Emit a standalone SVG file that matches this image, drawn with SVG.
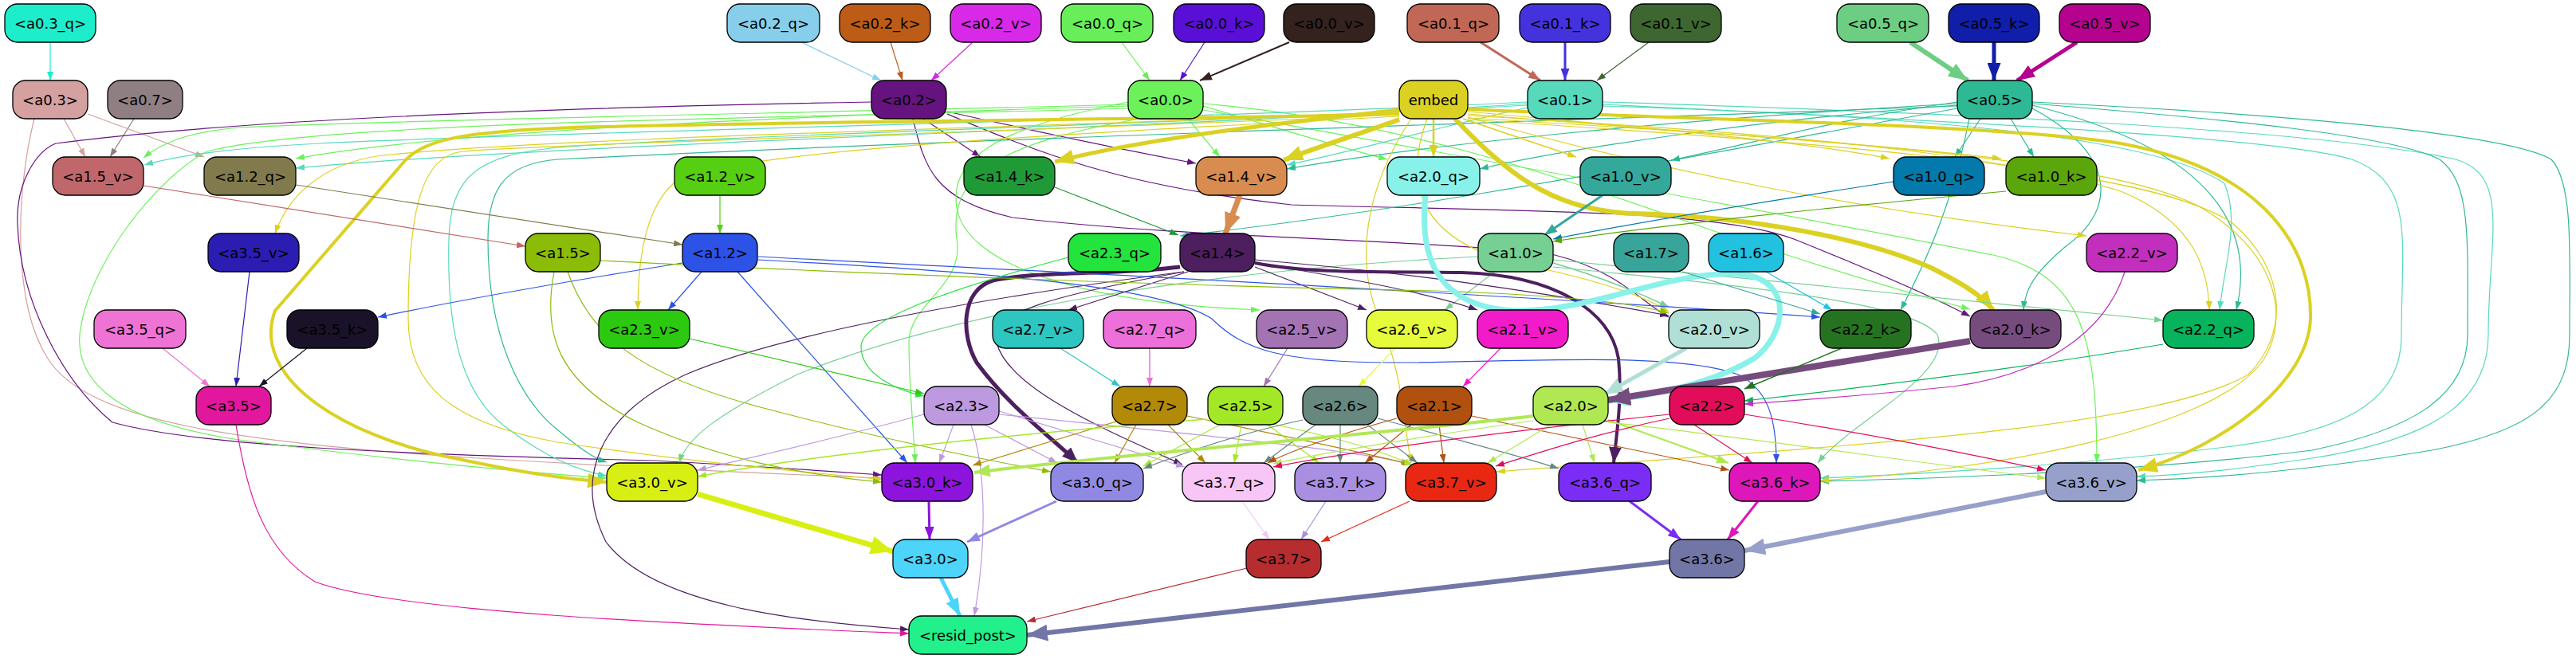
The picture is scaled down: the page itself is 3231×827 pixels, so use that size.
<svg xmlns="http://www.w3.org/2000/svg" width="3231" height="827" viewBox="0 0 3231 827">
<style>
.n rect{stroke:#000;stroke-width:1.3}
.n text{font-family:"DejaVu Sans","Liberation Sans",sans-serif;font-size:18px;text-anchor:middle;dominant-baseline:central;fill:#000}
</style>
<defs>
<marker id="a03q" viewBox="0 0 10 10" refX="10" refY="5" markerWidth="11" markerHeight="8" markerUnits="userSpaceOnUse" orient="auto" preserveAspectRatio="none"><path d="M0,0L10,5L0,10z" fill="#1dedcb"/></marker>
<marker id="a02q" viewBox="0 0 10 10" refX="10" refY="5" markerWidth="11" markerHeight="8" markerUnits="userSpaceOnUse" orient="auto" preserveAspectRatio="none"><path d="M0,0L10,5L0,10z" fill="#87ceeb"/></marker>
<marker id="a02k" viewBox="0 0 10 10" refX="10" refY="5" markerWidth="11" markerHeight="8" markerUnits="userSpaceOnUse" orient="auto" preserveAspectRatio="none"><path d="M0,0L10,5L0,10z" fill="#bc5c17"/></marker>
<marker id="a02v" viewBox="0 0 10 10" refX="10" refY="5" markerWidth="11" markerHeight="8" markerUnits="userSpaceOnUse" orient="auto" preserveAspectRatio="none"><path d="M0,0L10,5L0,10z" fill="#d828e8"/></marker>
<marker id="a00q" viewBox="0 0 10 10" refX="10" refY="5" markerWidth="11" markerHeight="8" markerUnits="userSpaceOnUse" orient="auto" preserveAspectRatio="none"><path d="M0,0L10,5L0,10z" fill="#68ee58"/></marker>
<marker id="a00k" viewBox="0 0 10 10" refX="10" refY="5" markerWidth="11" markerHeight="8" markerUnits="userSpaceOnUse" orient="auto" preserveAspectRatio="none"><path d="M0,0L10,5L0,10z" fill="#5a0fd6"/></marker>
<marker id="a00vM" viewBox="0 0 10 10" refX="10" refY="5" markerWidth="15" markerHeight="11" markerUnits="userSpaceOnUse" orient="auto" preserveAspectRatio="none"><path d="M0,0L10,5L0,10z" fill="#34221f"/></marker>
<marker id="a01qM" viewBox="0 0 10 10" refX="10" refY="5" markerWidth="15" markerHeight="11" markerUnits="userSpaceOnUse" orient="auto" preserveAspectRatio="none"><path d="M0,0L10,5L0,10z" fill="#c06756"/></marker>
<marker id="a01kM" viewBox="0 0 10 10" refX="10" refY="5" markerWidth="15" markerHeight="11" markerUnits="userSpaceOnUse" orient="auto" preserveAspectRatio="none"><path d="M0,0L10,5L0,10z" fill="#4433dd"/></marker>
<marker id="a01v" viewBox="0 0 10 10" refX="10" refY="5" markerWidth="11" markerHeight="8" markerUnits="userSpaceOnUse" orient="auto" preserveAspectRatio="none"><path d="M0,0L10,5L0,10z" fill="#3e6630"/></marker>
<marker id="a05qL" viewBox="0 0 10 10" refX="10" refY="5" markerWidth="24" markerHeight="19" markerUnits="userSpaceOnUse" orient="auto" preserveAspectRatio="none"><path d="M0,0L10,5L0,10z" fill="#6dce83"/></marker>
<marker id="a05kL" viewBox="0 0 10 10" refX="10" refY="5" markerWidth="22" markerHeight="17" markerUnits="userSpaceOnUse" orient="auto" preserveAspectRatio="none"><path d="M0,0L10,5L0,10z" fill="#101ea9"/></marker>
<marker id="a05vL" viewBox="0 0 10 10" refX="10" refY="5" markerWidth="22" markerHeight="17" markerUnits="userSpaceOnUse" orient="auto" preserveAspectRatio="none"><path d="M0,0L10,5L0,10z" fill="#b5038f"/></marker>
<marker id="a03" viewBox="0 0 10 10" refX="10" refY="5" markerWidth="11" markerHeight="8" markerUnits="userSpaceOnUse" orient="auto" preserveAspectRatio="none"><path d="M0,0L10,5L0,10z" fill="#d4a0a0"/></marker>
<marker id="a07" viewBox="0 0 10 10" refX="10" refY="5" markerWidth="11" markerHeight="8" markerUnits="userSpaceOnUse" orient="auto" preserveAspectRatio="none"><path d="M0,0L10,5L0,10z" fill="#8f7f82"/></marker>
<marker id="a02" viewBox="0 0 10 10" refX="10" refY="5" markerWidth="11" markerHeight="8" markerUnits="userSpaceOnUse" orient="auto" preserveAspectRatio="none"><path d="M0,0L10,5L0,10z" fill="#65137e"/></marker>
<marker id="a00" viewBox="0 0 10 10" refX="10" refY="5" markerWidth="11" markerHeight="8" markerUnits="userSpaceOnUse" orient="auto" preserveAspectRatio="none"><path d="M0,0L10,5L0,10z" fill="#6cf15a"/></marker>
<marker id="emb" viewBox="0 0 10 10" refX="10" refY="5" markerWidth="11" markerHeight="8" markerUnits="userSpaceOnUse" orient="auto" preserveAspectRatio="none"><path d="M0,0L10,5L0,10z" fill="#dbd122"/></marker>
<marker id="embM" viewBox="0 0 10 10" refX="10" refY="5" markerWidth="15" markerHeight="11" markerUnits="userSpaceOnUse" orient="auto" preserveAspectRatio="none"><path d="M0,0L10,5L0,10z" fill="#dbd122"/></marker>
<marker id="embL" viewBox="0 0 10 10" refX="10" refY="5" markerWidth="24" markerHeight="19" markerUnits="userSpaceOnUse" orient="auto" preserveAspectRatio="none"><path d="M0,0L10,5L0,10z" fill="#dbd122"/></marker>
<marker id="a01" viewBox="0 0 10 10" refX="10" refY="5" markerWidth="11" markerHeight="8" markerUnits="userSpaceOnUse" orient="auto" preserveAspectRatio="none"><path d="M0,0L10,5L0,10z" fill="#57d9bc"/></marker>
<marker id="a05" viewBox="0 0 10 10" refX="10" refY="5" markerWidth="11" markerHeight="8" markerUnits="userSpaceOnUse" orient="auto" preserveAspectRatio="none"><path d="M0,0L10,5L0,10z" fill="#2eb994"/></marker>
<marker id="a15v" viewBox="0 0 10 10" refX="10" refY="5" markerWidth="11" markerHeight="8" markerUnits="userSpaceOnUse" orient="auto" preserveAspectRatio="none"><path d="M0,0L10,5L0,10z" fill="#c0676b"/></marker>
<marker id="a12q" viewBox="0 0 10 10" refX="10" refY="5" markerWidth="11" markerHeight="8" markerUnits="userSpaceOnUse" orient="auto" preserveAspectRatio="none"><path d="M0,0L10,5L0,10z" fill="#807a4c"/></marker>
<marker id="a12v" viewBox="0 0 10 10" refX="10" refY="5" markerWidth="11" markerHeight="8" markerUnits="userSpaceOnUse" orient="auto" preserveAspectRatio="none"><path d="M0,0L10,5L0,10z" fill="#56cf12"/></marker>
<marker id="a14k" viewBox="0 0 10 10" refX="10" refY="5" markerWidth="11" markerHeight="8" markerUnits="userSpaceOnUse" orient="auto" preserveAspectRatio="none"><path d="M0,0L10,5L0,10z" fill="#1f9a37"/></marker>
<marker id="a14vL" viewBox="0 0 10 10" refX="10" refY="5" markerWidth="26" markerHeight="21" markerUnits="userSpaceOnUse" orient="auto" preserveAspectRatio="none"><path d="M0,0L10,5L0,10z" fill="#d98c50"/></marker>
<marker id="a20qL" viewBox="0 0 10 10" refX="10" refY="5" markerWidth="26" markerHeight="21" markerUnits="userSpaceOnUse" orient="auto" preserveAspectRatio="none"><path d="M0,0L10,5L0,10z" fill="#88f2ea"/></marker>
<marker id="a10vM" viewBox="0 0 10 10" refX="10" refY="5" markerWidth="16" markerHeight="12" markerUnits="userSpaceOnUse" orient="auto" preserveAspectRatio="none"><path d="M0,0L10,5L0,10z" fill="#34a89a"/></marker>
<marker id="a10q" viewBox="0 0 10 10" refX="10" refY="5" markerWidth="11" markerHeight="8" markerUnits="userSpaceOnUse" orient="auto" preserveAspectRatio="none"><path d="M0,0L10,5L0,10z" fill="#0479ab"/></marker>
<marker id="a10k" viewBox="0 0 10 10" refX="10" refY="5" markerWidth="11" markerHeight="8" markerUnits="userSpaceOnUse" orient="auto" preserveAspectRatio="none"><path d="M0,0L10,5L0,10z" fill="#5aa60b"/></marker>
<marker id="a35v" viewBox="0 0 10 10" refX="10" refY="5" markerWidth="11" markerHeight="8" markerUnits="userSpaceOnUse" orient="auto" preserveAspectRatio="none"><path d="M0,0L10,5L0,10z" fill="#2b1db1"/></marker>
<marker id="a15" viewBox="0 0 10 10" refX="10" refY="5" markerWidth="11" markerHeight="8" markerUnits="userSpaceOnUse" orient="auto" preserveAspectRatio="none"><path d="M0,0L10,5L0,10z" fill="#8bbd08"/></marker>
<marker id="a12" viewBox="0 0 10 10" refX="10" refY="5" markerWidth="11" markerHeight="8" markerUnits="userSpaceOnUse" orient="auto" preserveAspectRatio="none"><path d="M0,0L10,5L0,10z" fill="#2d52e6"/></marker>
<marker id="a23q" viewBox="0 0 10 10" refX="10" refY="5" markerWidth="11" markerHeight="8" markerUnits="userSpaceOnUse" orient="auto" preserveAspectRatio="none"><path d="M0,0L10,5L0,10z" fill="#23e33d"/></marker>
<marker id="a14" viewBox="0 0 10 10" refX="10" refY="5" markerWidth="11" markerHeight="8" markerUnits="userSpaceOnUse" orient="auto" preserveAspectRatio="none"><path d="M0,0L10,5L0,10z" fill="#4d1f5f"/></marker>
<marker id="a14L" viewBox="0 0 10 10" refX="10" refY="5" markerWidth="20" markerHeight="16" markerUnits="userSpaceOnUse" orient="auto" preserveAspectRatio="none"><path d="M0,0L10,5L0,10z" fill="#4d1f5f"/></marker>
<marker id="a10" viewBox="0 0 10 10" refX="10" refY="5" markerWidth="11" markerHeight="8" markerUnits="userSpaceOnUse" orient="auto" preserveAspectRatio="none"><path d="M0,0L10,5L0,10z" fill="#76cf93"/></marker>
<marker id="a17" viewBox="0 0 10 10" refX="10" refY="5" markerWidth="11" markerHeight="8" markerUnits="userSpaceOnUse" orient="auto" preserveAspectRatio="none"><path d="M0,0L10,5L0,10z" fill="#39a49a"/></marker>
<marker id="a16" viewBox="0 0 10 10" refX="10" refY="5" markerWidth="11" markerHeight="8" markerUnits="userSpaceOnUse" orient="auto" preserveAspectRatio="none"><path d="M0,0L10,5L0,10z" fill="#23c1e0"/></marker>
<marker id="a22v" viewBox="0 0 10 10" refX="10" refY="5" markerWidth="11" markerHeight="8" markerUnits="userSpaceOnUse" orient="auto" preserveAspectRatio="none"><path d="M0,0L10,5L0,10z" fill="#c32fbd"/></marker>
<marker id="a35q" viewBox="0 0 10 10" refX="10" refY="5" markerWidth="11" markerHeight="8" markerUnits="userSpaceOnUse" orient="auto" preserveAspectRatio="none"><path d="M0,0L10,5L0,10z" fill="#ee73d4"/></marker>
<marker id="a35k" viewBox="0 0 10 10" refX="10" refY="5" markerWidth="11" markerHeight="8" markerUnits="userSpaceOnUse" orient="auto" preserveAspectRatio="none"><path d="M0,0L10,5L0,10z" fill="#1a1228"/></marker>
<marker id="a23v" viewBox="0 0 10 10" refX="10" refY="5" markerWidth="11" markerHeight="8" markerUnits="userSpaceOnUse" orient="auto" preserveAspectRatio="none"><path d="M0,0L10,5L0,10z" fill="#2cc911"/></marker>
<marker id="a27v" viewBox="0 0 10 10" refX="10" refY="5" markerWidth="11" markerHeight="8" markerUnits="userSpaceOnUse" orient="auto" preserveAspectRatio="none"><path d="M0,0L10,5L0,10z" fill="#2ec6c0"/></marker>
<marker id="a27q" viewBox="0 0 10 10" refX="10" refY="5" markerWidth="11" markerHeight="8" markerUnits="userSpaceOnUse" orient="auto" preserveAspectRatio="none"><path d="M0,0L10,5L0,10z" fill="#ed6fd9"/></marker>
<marker id="a25v" viewBox="0 0 10 10" refX="10" refY="5" markerWidth="11" markerHeight="8" markerUnits="userSpaceOnUse" orient="auto" preserveAspectRatio="none"><path d="M0,0L10,5L0,10z" fill="#a373b3"/></marker>
<marker id="a26v" viewBox="0 0 10 10" refX="10" refY="5" markerWidth="11" markerHeight="8" markerUnits="userSpaceOnUse" orient="auto" preserveAspectRatio="none"><path d="M0,0L10,5L0,10z" fill="#e7fb3d"/></marker>
<marker id="a21v" viewBox="0 0 10 10" refX="10" refY="5" markerWidth="11" markerHeight="8" markerUnits="userSpaceOnUse" orient="auto" preserveAspectRatio="none"><path d="M0,0L10,5L0,10z" fill="#f21bc9"/></marker>
<marker id="a20vL" viewBox="0 0 10 10" refX="10" refY="5" markerWidth="24" markerHeight="19" markerUnits="userSpaceOnUse" orient="auto" preserveAspectRatio="none"><path d="M0,0L10,5L0,10z" fill="#b0dfd6"/></marker>
<marker id="a22k" viewBox="0 0 10 10" refX="10" refY="5" markerWidth="13" markerHeight="10" markerUnits="userSpaceOnUse" orient="auto" preserveAspectRatio="none"><path d="M0,0L10,5L0,10z" fill="#257320"/></marker>
<marker id="a20kL" viewBox="0 0 10 10" refX="10" refY="5" markerWidth="28" markerHeight="23" markerUnits="userSpaceOnUse" orient="auto" preserveAspectRatio="none"><path d="M0,0L10,5L0,10z" fill="#764b7e"/></marker>
<marker id="a22q" viewBox="0 0 10 10" refX="10" refY="5" markerWidth="11" markerHeight="8" markerUnits="userSpaceOnUse" orient="auto" preserveAspectRatio="none"><path d="M0,0L10,5L0,10z" fill="#07b35c"/></marker>
<marker id="a35" viewBox="0 0 10 10" refX="10" refY="5" markerWidth="11" markerHeight="8" markerUnits="userSpaceOnUse" orient="auto" preserveAspectRatio="none"><path d="M0,0L10,5L0,10z" fill="#e2179e"/></marker>
<marker id="a23" viewBox="0 0 10 10" refX="10" refY="5" markerWidth="11" markerHeight="8" markerUnits="userSpaceOnUse" orient="auto" preserveAspectRatio="none"><path d="M0,0L10,5L0,10z" fill="#bd9ae0"/></marker>
<marker id="a27" viewBox="0 0 10 10" refX="10" refY="5" markerWidth="11" markerHeight="8" markerUnits="userSpaceOnUse" orient="auto" preserveAspectRatio="none"><path d="M0,0L10,5L0,10z" fill="#b28a07"/></marker>
<marker id="a25" viewBox="0 0 10 10" refX="10" refY="5" markerWidth="11" markerHeight="8" markerUnits="userSpaceOnUse" orient="auto" preserveAspectRatio="none"><path d="M0,0L10,5L0,10z" fill="#a3e826"/></marker>
<marker id="a26" viewBox="0 0 10 10" refX="10" refY="5" markerWidth="11" markerHeight="8" markerUnits="userSpaceOnUse" orient="auto" preserveAspectRatio="none"><path d="M0,0L10,5L0,10z" fill="#66887f"/></marker>
<marker id="a21" viewBox="0 0 10 10" refX="10" refY="5" markerWidth="11" markerHeight="8" markerUnits="userSpaceOnUse" orient="auto" preserveAspectRatio="none"><path d="M0,0L10,5L0,10z" fill="#b1510f"/></marker>
<marker id="a20" viewBox="0 0 10 10" refX="10" refY="5" markerWidth="11" markerHeight="8" markerUnits="userSpaceOnUse" orient="auto" preserveAspectRatio="none"><path d="M0,0L10,5L0,10z" fill="#b0e854"/></marker>
<marker id="a20M" viewBox="0 0 10 10" refX="10" refY="5" markerWidth="15" markerHeight="11" markerUnits="userSpaceOnUse" orient="auto" preserveAspectRatio="none"><path d="M0,0L10,5L0,10z" fill="#b0e854"/></marker>
<marker id="a20L" viewBox="0 0 10 10" refX="10" refY="5" markerWidth="20" markerHeight="16" markerUnits="userSpaceOnUse" orient="auto" preserveAspectRatio="none"><path d="M0,0L10,5L0,10z" fill="#b0e854"/></marker>
<marker id="a22" viewBox="0 0 10 10" refX="10" refY="5" markerWidth="11" markerHeight="8" markerUnits="userSpaceOnUse" orient="auto" preserveAspectRatio="none"><path d="M0,0L10,5L0,10z" fill="#e20d5a"/></marker>
<marker id="a30vL" viewBox="0 0 10 10" refX="10" refY="5" markerWidth="28" markerHeight="23" markerUnits="userSpaceOnUse" orient="auto" preserveAspectRatio="none"><path d="M0,0L10,5L0,10z" fill="#d8ef13"/></marker>
<marker id="a30kM" viewBox="0 0 10 10" refX="10" refY="5" markerWidth="16" markerHeight="12" markerUnits="userSpaceOnUse" orient="auto" preserveAspectRatio="none"><path d="M0,0L10,5L0,10z" fill="#8c14dc"/></marker>
<marker id="a30qM" viewBox="0 0 10 10" refX="10" refY="5" markerWidth="16" markerHeight="12" markerUnits="userSpaceOnUse" orient="auto" preserveAspectRatio="none"><path d="M0,0L10,5L0,10z" fill="#9089e3"/></marker>
<marker id="a37q" viewBox="0 0 10 10" refX="10" refY="5" markerWidth="11" markerHeight="8" markerUnits="userSpaceOnUse" orient="auto" preserveAspectRatio="none"><path d="M0,0L10,5L0,10z" fill="#f7c5f6"/></marker>
<marker id="a37k" viewBox="0 0 10 10" refX="10" refY="5" markerWidth="11" markerHeight="8" markerUnits="userSpaceOnUse" orient="auto" preserveAspectRatio="none"><path d="M0,0L10,5L0,10z" fill="#a88fe1"/></marker>
<marker id="a37v" viewBox="0 0 10 10" refX="10" refY="5" markerWidth="11" markerHeight="8" markerUnits="userSpaceOnUse" orient="auto" preserveAspectRatio="none"><path d="M0,0L10,5L0,10z" fill="#e82812"/></marker>
<marker id="a36qM" viewBox="0 0 10 10" refX="10" refY="5" markerWidth="16" markerHeight="12" markerUnits="userSpaceOnUse" orient="auto" preserveAspectRatio="none"><path d="M0,0L10,5L0,10z" fill="#7a2ef5"/></marker>
<marker id="a36kM" viewBox="0 0 10 10" refX="10" refY="5" markerWidth="16" markerHeight="12" markerUnits="userSpaceOnUse" orient="auto" preserveAspectRatio="none"><path d="M0,0L10,5L0,10z" fill="#dd17b9"/></marker>
<marker id="a36vL" viewBox="0 0 10 10" refX="10" refY="5" markerWidth="26" markerHeight="21" markerUnits="userSpaceOnUse" orient="auto" preserveAspectRatio="none"><path d="M0,0L10,5L0,10z" fill="#96a0ca"/></marker>
<marker id="a30L" viewBox="0 0 10 10" refX="10" refY="5" markerWidth="22" markerHeight="17" markerUnits="userSpaceOnUse" orient="auto" preserveAspectRatio="none"><path d="M0,0L10,5L0,10z" fill="#4cd4fb"/></marker>
<marker id="a37" viewBox="0 0 10 10" refX="10" refY="5" markerWidth="11" markerHeight="8" markerUnits="userSpaceOnUse" orient="auto" preserveAspectRatio="none"><path d="M0,0L10,5L0,10z" fill="#b72d2f"/></marker>
<marker id="a36L" viewBox="0 0 10 10" refX="10" refY="5" markerWidth="26" markerHeight="21" markerUnits="userSpaceOnUse" orient="auto" preserveAspectRatio="none"><path d="M0,0L10,5L0,10z" fill="#7276a6"/></marker>
</defs>
<rect width="3231" height="827" fill="#fff"/>
<g id="edges" fill="none" stroke-width="1.2">
<path d="M63,53L63,101" stroke="#1dedcb" marker-end="url(#a03q)"/>
<path d="M1005,53L1105,101" stroke="#87ceeb" marker-end="url(#a02q)"/>
<path d="M1117,53L1132,101" stroke="#bc5c17" marker-end="url(#a02k)"/>
<path d="M1220,53L1168,101" stroke="#d828e8" marker-end="url(#a02v)"/>
<path d="M1407,53L1442,101" stroke="#68ee58" marker-end="url(#a00q)"/>
<path d="M1511,53L1480,101" stroke="#5a0fd6" marker-end="url(#a00k)"/>
<path d="M1617,53L1505,101" stroke="#34221f" stroke-width="2" marker-end="url(#a00vM)"/>
<path d="M1857,53L1932,101" stroke="#c06756" stroke-width="3" marker-end="url(#a01qM)"/>
<path d="M1963,53L1963,101" stroke="#4433dd" stroke-width="3" marker-end="url(#a01kM)"/>
<path d="M2068,53L2003,101" stroke="#3e6630" marker-end="url(#a01v)"/>
<path d="M2396,53L2468,101" stroke="#6dce83" stroke-width="6" marker-end="url(#a05qL)"/>
<path d="M2501,53L2501,101" stroke="#101ea9" stroke-width="5" marker-end="url(#a05kL)"/>
<path d="M2605,53L2530,101" stroke="#b5038f" stroke-width="5" marker-end="url(#a05vL)"/>
<path d="M80,149L107,197" stroke="#d4a0a0" marker-end="url(#a03)"/>
<path d="M168,149L138,197" stroke="#8f7f82" marker-end="url(#a07)"/>
<path d="M110,143L256,197" stroke="#d4a0a0" marker-end="url(#a03)"/>
<path d="M43,149C20,240 15,380 60,450C110,530 300,555 600,575C850,590 1000,596 1106,600" stroke="#d4a0a0" marker-end="url(#a03)"/>
<path d="M1093,128C700,135 300,150 70,180C45,190 20,230 22,280C25,380 80,480 141,530C250,560 500,570 820,578C950,585 1050,592 1106,596" stroke="#65137e" marker-end="url(#a02)"/>
<path d="M1158,149L1230,197" stroke="#65137e" marker-end="url(#a02)"/>
<path d="M1188,140C1300,165 1420,190 1500,205" stroke="#65137e" marker-end="url(#a02)"/>
<path d="M1188,143C1300,190 1400,233 1620,257C1900,265 2150,262 2250,300C2350,340 2420,370 2471,397" stroke="#65137e" marker-end="url(#a02)"/>
<path d="M1145,149C1160,210 1170,250 1270,273C1500,300 1800,300 1950,320C2030,340 2060,380 2093,398" stroke="#65137e" marker-end="url(#a02)"/>
<path d="M1490,149L1530,197" stroke="#6cf15a" marker-end="url(#a00)"/>
<path d="M1415,131C1100,140 500,150 300,160C230,166 200,182 180,198" stroke="#6cf15a" marker-end="url(#a00)"/>
<path d="M1415,133C1000,145 550,165 371,199" stroke="#6cf15a" marker-end="url(#a00)"/>
<path d="M1415,136C1000,148 400,152 260,190C200,220 110,330 100,420C95,480 150,530 300,552C500,578 650,592 761,600" stroke="#6cf15a" marker-end="url(#a00)"/>
<path d="M1509,133C1600,160 1680,185 1740,200" stroke="#6cf15a" marker-end="url(#a00)"/>
<path d="M1509,130C1750,150 1950,220 2150,290C2300,340 2400,370 2471,388" stroke="#6cf15a" marker-end="url(#a00)"/>
<path d="M1509,138C1800,190 2300,280 2500,320C2610,345 2630,420 2630,581" stroke="#6cf15a" marker-end="url(#a00)"/>
<path d="M1415,128C1250,160 1190,200 1200,260C1210,330 1350,380 1580,389" stroke="#6cf15a" marker-end="url(#a00)"/>
<path d="M1430,149C1250,180 1190,220 1200,300C1210,360 1140,380 1140,430C1140,480 1145,530 1148,581" stroke="#6cf15a" marker-end="url(#a00)"/>
<path d="M1916,135C1800,160 1700,190 1614,207" stroke="#57d9bc" marker-end="url(#a01)"/>
<path d="M1916,128C1500,150 700,165 400,180C280,186 220,196 181,207" stroke="#57d9bc" marker-end="url(#a01)"/>
<path d="M1916,130C1500,160 700,180 371,211" stroke="#57d9bc" marker-end="url(#a01)"/>
<path d="M1916,132C1500,155 900,170 700,185C600,195 565,220 563,300C560,420 580,500 640,540C680,570 720,590 761,597" stroke="#57d9bc" marker-end="url(#a01)"/>
<path d="M2010,128C2400,140 2900,160 3080,200C3150,220 3121,300 3121,420C3121,500 3060,550 2900,575C2800,590 2740,596 2680,598" stroke="#57d9bc" marker-end="url(#a01)"/>
<path d="M2010,131C2400,150 2850,170 2950,200C3030,230 3012,300 3012,420C3012,500 2950,540 2800,560C2600,585 2400,595 2283,600" stroke="#57d9bc" marker-end="url(#a01)"/>
<path d="M2010,133C2400,145 2700,170 2790,230C2810,280 2790,330 2784,389" stroke="#57d9bc" marker-end="url(#a01)"/>
<path d="M2484,149L2452,197" stroke="#2eb994" marker-end="url(#a05)"/>
<path d="M2522,149L2551,197" stroke="#2eb994" marker-end="url(#a05)"/>
<path d="M2455,128C2300,150 2200,180 2096,201" stroke="#2eb994" marker-end="url(#a05)"/>
<path d="M2455,130C2100,150 1800,180 1614,212" stroke="#2eb994" marker-end="url(#a05)"/>
<path d="M2455,132C2200,150 1950,190 1856,212" stroke="#2eb994" marker-end="url(#a05)"/>
<path d="M2455,136C2100,200 1800,260 1480,296" stroke="#2eb994" marker-end="url(#a05)"/>
<path d="M2470,149C2450,250 2420,320 2384,389" stroke="#2eb994" marker-end="url(#a05)"/>
<path d="M2549,136C2650,190 2660,260 2590,310C2555,340 2540,360 2538,389" stroke="#2eb994" marker-end="url(#a05)"/>
<path d="M2549,132C2700,170 2840,240 2805,389" stroke="#2eb994" marker-end="url(#a05)"/>
<path d="M2455,133C2000,150 1200,175 700,200C630,205 612,240 612,300C612,420 650,500 700,540C730,565 745,575 761,580" stroke="#2eb994" marker-end="url(#a05)"/>
<path d="M2549,128C2900,145 3150,170 3200,200C3228,230 3223,320 3223,420C3223,500 3180,540 3050,565C2900,590 2780,600 2680,603" stroke="#2eb994" marker-end="url(#a05)"/>
<path d="M2549,130C2800,150 3000,170 3060,200C3100,230 3095,300 3095,420C3095,500 3020,540 2900,565C2700,590 2450,600 2283,604" stroke="#2eb994" marker-end="url(#a05)"/>
<path d="M1755,138C1650,150 1450,170 1323,203" stroke="#dbd122" stroke-width="5" marker-end="url(#embL)"/>
<path d="M1755,150C1700,170 1650,185 1610,201" stroke="#dbd122" stroke-width="6" marker-end="url(#embL)"/>
<path d="M1755,143C1500,150 1000,152 720,160C580,165 530,175 505,205L345,390C315,470 420,545 570,575C650,592 700,600 761,605" stroke="#dbd122" stroke-width="4" marker-end="url(#embL)"/>
<path d="M1825,149C1900,230 1960,265 2050,268C2200,272 2340,300 2420,335C2460,355 2485,370 2500,389" stroke="#dbd122" stroke-width="6" marker-end="url(#embL)"/>
<path d="M1841,137C2100,150 2500,155 2660,180C2850,215 2900,320 2898,400C2895,480 2790,560 2682,590" stroke="#dbd122" stroke-width="4" marker-end="url(#embL)"/>
<path d="M1798,149L1798,197" stroke="#dbd122" stroke-width="2.5" marker-end="url(#embM)"/>
<path d="M1835,149L1977,197" stroke="#dbd122" stroke-width="1.5" marker-end="url(#emb)"/>
<path d="M1841,140C2000,155 2250,175 2370,199" stroke="#dbd122" marker-end="url(#emb)"/>
<path d="M1841,143C2100,165 2350,180 2510,199" stroke="#dbd122" marker-end="url(#emb)"/>
<path d="M1841,147C2100,220 2350,265 2617,296" stroke="#dbd122" marker-end="url(#emb)"/>
<path d="M1841,145C2200,165 2500,190 2660,240C2745,275 2770,330 2771,389" stroke="#dbd122" marker-end="url(#emb)"/>
<path d="M1755,141C1300,160 700,172 480,195C400,205 360,250 345,293" stroke="#dbd122" marker-end="url(#emb)"/>
<path d="M1755,146C1300,170 900,190 845,230C805,265 800,340 800,389" stroke="#dbd122" marker-end="url(#emb)"/>
<path d="M1755,144C1300,165 700,180 580,190C530,195 512,260 512,400C512,480 560,530 700,555C900,585 1050,595 1106,602" stroke="#dbd122" marker-end="url(#emb)"/>
<path d="M1841,148C2300,175 2650,200 2760,260C2860,320 2870,400 2840,450C2780,540 2500,590 2283,603" stroke="#dbd122" marker-end="url(#emb)"/>
<path d="M1841,150C2300,180 2700,210 2800,280C2870,340 2870,420 2820,470C2700,540 2300,560 1877,592" stroke="#dbd122" marker-end="url(#emb)"/>
<path d="M1790,149C1760,230 1780,300 1900,330C2000,350 2060,370 2093,391" stroke="#dbd122" marker-end="url(#emb)"/>
<path d="M1770,149C1710,240 1700,330 1730,400C1760,470 1760,530 1770,581" stroke="#dbd122" marker-end="url(#emb)"/>
<path d="M1875,341L1812,389" stroke="#76cf93" marker-end="url(#a10)"/>
<path d="M1948,330C2000,345 2050,365 2093,385" stroke="#76cf93" stroke-width="1.6" marker-end="url(#a10)"/>
<path d="M1948,326C2200,350 2500,380 2713,402" stroke="#76cf93" marker-end="url(#a10)"/>
<path d="M1854,322C1500,340 1200,390 1000,470C900,520 860,550 852,581" stroke="#76cf93" marker-end="url(#a10)"/>
<path d="M1948,335C2200,360 2400,380 2430,420C2450,470 2320,530 2280,581" stroke="#76cf93" marker-end="url(#a10)"/>
<path d="M1480,335C1400,345 1300,340 1245,352C1205,365 1205,420 1225,455C1265,510 1320,550 1352,581" stroke="#4d1f5f" stroke-width="5" marker-end="url(#a14L)"/>
<path d="M1574,330C1650,345 1750,340 1833,342C1950,345 2020,390 2030,450C2035,500 2028,540 2024,581" stroke="#4d1f5f" stroke-width="4" marker-end="url(#a14L)"/>
<path d="M1490,341L1340,389" stroke="#4d1f5f" marker-end="url(#a14)"/>
<path d="M1574,335L1714,389" stroke="#4d1f5f" marker-end="url(#a14)"/>
<path d="M1574,330C1700,350 1800,370 1853,389" stroke="#4d1f5f" marker-end="url(#a14)"/>
<path d="M1574,326C1800,345 1950,370 2093,396" stroke="#4d1f5f" marker-end="url(#a14)"/>
<path d="M1485,341C1330,370 1240,390 1250,430C1265,490 1400,545 1483,583" stroke="#4d1f5f" marker-end="url(#a14)"/>
<path d="M1485,341C1300,365 1000,410 860,470C750,520 720,600 760,680C820,760 1000,780 1140,790" stroke="#4d1f5f" marker-end="url(#a14)"/>
<path d="M856,330C700,355 560,380 474,398" stroke="#2d52e6" marker-end="url(#a12)"/>
<path d="M880,341L838,389" stroke="#2d52e6" marker-end="url(#a12)"/>
<path d="M925,341L1138,581" stroke="#2d52e6" marker-end="url(#a12)"/>
<path d="M951,322C1300,340 1900,370 2283,398" stroke="#2d52e6" marker-end="url(#a12)"/>
<path d="M951,326C1200,340 1450,355 1520,400C1560,440 1610,455 1750,455C1900,455 2100,440 2180,470C2220,490 2228,530 2228,581" stroke="#2d52e6" marker-end="url(#a12)"/>
<path d="M695,341C680,420 700,480 800,530C900,575 1000,595 1106,605" stroke="#8bbd08" marker-end="url(#a15)"/>
<path d="M712,341C740,420 800,470 950,510C1100,550 1250,580 1318,592" stroke="#8bbd08" marker-end="url(#a15)"/>
<path d="M753,327C1000,340 1500,360 1800,365C1950,370 2050,380 2093,393" stroke="#8bbd08" marker-end="url(#a15)"/>
<path d="M1340,323C1200,360 1080,400 1080,435C1080,470 1125,490 1159,497" stroke="#23e33d" marker-end="url(#a23q)"/>
<path d="M865,425L1159,494" stroke="#2cc911" marker-end="url(#a23v)"/>
<path d="M1159,520C1050,550 950,572 875,590" stroke="#bd9ae0" marker-end="url(#a23)"/>
<path d="M1196,533L1178,581" stroke="#bd9ae0" marker-end="url(#a23)"/>
<path d="M1235,533L1326,581" stroke="#bd9ae0" marker-end="url(#a23)"/>
<path d="M1253,516L1486,586" stroke="#bd9ae0" marker-end="url(#a23)"/>
<path d="M1253,520C1500,545 1700,565 1768,582" stroke="#bd9ae0" marker-end="url(#a23)"/>
<path d="M1218,533C1240,600 1235,700 1222,773" stroke="#bd9ae0" marker-end="url(#a23)"/>
<path d="M1400,529L1220,584" stroke="#b28a07" marker-end="url(#a27)"/>
<path d="M1425,533L1398,581" stroke="#b28a07" marker-end="url(#a27)"/>
<path d="M1465,533L1512,581" stroke="#b28a07" marker-end="url(#a27)"/>
<path d="M1489,522C1600,545 1700,565 1770,583" stroke="#b28a07" marker-end="url(#a27)"/>
<path d="M1514,526C1200,550 1000,575 875,598" stroke="#a3e826" stroke-width="1.5" marker-end="url(#a25)"/>
<path d="M1530,533L1434,585" stroke="#a3e826" marker-end="url(#a25)"/>
<path d="M1557,533L1548,581" stroke="#a3e826" marker-end="url(#a25)"/>
<path d="M1590,533L1655,581" stroke="#a3e826" marker-end="url(#a25)"/>
<path d="M1600,533C1680,550 1740,568 1772,584" stroke="#a3e826" marker-end="url(#a25)"/>
<path d="M1681,533L1681,581" stroke="#66887f" marker-end="url(#a26)"/>
<path d="M1715,533L1778,581" stroke="#66887f" marker-end="url(#a26)"/>
<path d="M1728,525C1820,550 1900,570 1955,588" stroke="#66887f" marker-end="url(#a26)"/>
<path d="M1634,527C1550,545 1480,570 1434,588" stroke="#66887f" marker-end="url(#a26)"/>
<path d="M1650,533L1585,581" stroke="#66887f" marker-end="url(#a26)"/>
<path d="M1805,533L1811,581" stroke="#b1510f" marker-end="url(#a21)"/>
<path d="M1770,533L1712,581" stroke="#b1510f" marker-end="url(#a21)"/>
<path d="M1752,525C1680,545 1620,565 1590,581" stroke="#b1510f" marker-end="url(#a21)"/>
<path d="M1846,522C1950,545 2080,570 2169,590" stroke="#b1510f" marker-end="url(#a21)"/>
<path d="M1923,522C1700,548 1400,570 1222,593" stroke="#b0e854" stroke-width="4" marker-end="url(#a20L)"/>
<path d="M1985,533L2000,581" stroke="#b0e854" marker-end="url(#a20)"/>
<path d="M2017,527L2168,581" stroke="#b0e854" stroke-width="2" marker-end="url(#a20M)"/>
<path d="M1945,533L1866,581" stroke="#b0e854" marker-end="url(#a20)"/>
<path d="M1923,528C1800,545 1650,570 1597,582" stroke="#b0e854" marker-end="url(#a20)"/>
<path d="M2017,530C2200,550 2400,580 2566,600" stroke="#b0e854" marker-end="url(#a20)"/>
<path d="M2125,533L2198,581" stroke="#e20d5a" marker-end="url(#a22)"/>
<path d="M2094,525C2000,545 1940,565 1876,585" stroke="#e20d5a" marker-end="url(#a22)"/>
<path d="M2188,520C2350,545 2470,570 2566,590" stroke="#e20d5a" marker-end="url(#a22)"/>
<path d="M2094,520C1900,540 1700,565 1597,586" stroke="#e20d5a" marker-end="url(#a22)"/>
<path d="M1788,245C1780,320 1800,385 1900,390C2000,392 2100,335 2190,345C2250,355 2240,420 2200,450C2150,480 2080,495 2017,503" stroke="#88f2ea" stroke-width="7" marker-end="url(#a20qL)"/>
<path d="M2115,437L2012,495" stroke="#b0dfd6" stroke-width="5" marker-end="url(#a20vL)"/>
<path d="M2471,428L2017,502" stroke="#764b7e" stroke-width="8" marker-end="url(#a20kL)"/>
<path d="M2310,437L2188,488" stroke="#257320" stroke-width="1.5" marker-end="url(#a22k)"/>
<path d="M2713,432C2550,460 2350,485 2188,503" stroke="#07b35c" marker-end="url(#a22q)"/>
<path d="M2665,341C2640,420 2560,470 2450,485C2350,495 2250,503 2188,507" stroke="#c32fbd" marker-end="url(#a22v)"/>
<path d="M2110,341L2283,394" stroke="#39a49a" marker-end="url(#a17)"/>
<path d="M2215,341L2298,389" stroke="#23c1e0" marker-end="url(#a16)"/>
<path d="M2010,245L1937,295" stroke="#34a89a" stroke-width="3" marker-end="url(#a10vM)"/>
<path d="M2375,228C2200,255 2050,280 1948,300" stroke="#0479ab" marker-end="url(#a10q)"/>
<path d="M2516,240C2300,260 2100,280 1948,303" stroke="#5aa60b" marker-end="url(#a10k)"/>
<path d="M371,232L856,307" stroke="#807a4c" marker-end="url(#a12q)"/>
<path d="M903,245L903,293" stroke="#56cf12" marker-end="url(#a12v)"/>
<path d="M180,233L659,309" stroke="#c0676b" marker-end="url(#a15v)"/>
<path d="M1323,235L1478,295" stroke="#1f9a37" marker-end="url(#a14k)"/>
<path d="M1555,245L1537,293" stroke="#d98c50" stroke-width="7" marker-end="url(#a14vL)"/>
<path d="M313,341L296,485" stroke="#2b1db1" marker-end="url(#a35v)"/>
<path d="M204,437L263,485" stroke="#ee73d4" marker-end="url(#a35q)"/>
<path d="M385,437L325,485" stroke="#1a1228" marker-end="url(#a35k)"/>
<path d="M296,533C310,620 330,690 395,730C500,770 900,785 1140,795" stroke="#e2179e" marker-end="url(#a35)"/>
<path d="M1330,437L1405,485" stroke="#2ec6c0" marker-end="url(#a27v)"/>
<path d="M1442,437L1442,485" stroke="#ed6fd9" stroke-width="1.5" marker-end="url(#a27q)"/>
<path d="M1615,437L1585,485" stroke="#a373b3" marker-end="url(#a25v)"/>
<path d="M1750,437L1704,485" stroke="#e7fb3d" marker-end="url(#a26v)"/>
<path d="M1882,437L1835,485" stroke="#f21bc9" marker-end="url(#a21v)"/>
<path d="M875,620L1120,692" stroke="#d8ef13" stroke-width="7" marker-end="url(#a30vL)"/>
<path d="M1165,629L1166,677" stroke="#8c14dc" stroke-width="3" marker-end="url(#a30kM)"/>
<path d="M1325,629L1213,680" stroke="#9089e3" stroke-width="3" marker-end="url(#a30qM)"/>
<path d="M1558,629L1592,677" stroke="#f7c5f6" marker-end="url(#a37q)"/>
<path d="M1663,629L1632,677" stroke="#a88fe1" marker-end="url(#a37k)"/>
<path d="M1768,629L1657,680" stroke="#e82812" marker-end="url(#a37v)"/>
<path d="M2044,629L2108,677" stroke="#7a2ef5" stroke-width="3" marker-end="url(#a36qM)"/>
<path d="M2205,629L2167,677" stroke="#dd17b9" stroke-width="3" marker-end="url(#a36kM)"/>
<path d="M2566,617L2188,691" stroke="#96a0ca" stroke-width="6" marker-end="url(#a36vL)"/>
<path d="M1180,725L1204,773" stroke="#4cd4fb" stroke-width="5" marker-end="url(#a30L)"/>
<path d="M1564,713L1288,780" stroke="#b72d2f" marker-end="url(#a37)"/>
<path d="M2094,705L1288,797" stroke="#7276a6" stroke-width="6" marker-end="url(#a36L)"/>
</g>
<g id="n-a0_3_q" class="n"><rect x="6" y="5" width="114" height="48" rx="16" fill="#1dedcb"/><text x="63" y="29">&lt;a0.3_q&gt;</text></g>
<g id="n-a0_2_q" class="n"><rect x="912" y="5" width="116" height="48" rx="16" fill="#87ceeb"/><text x="970" y="29">&lt;a0.2_q&gt;</text></g>
<g id="n-a0_2_k" class="n"><rect x="1053" y="5" width="114" height="48" rx="16" fill="#bc5c17"/><text x="1110" y="29">&lt;a0.2_k&gt;</text></g>
<g id="n-a0_2_v" class="n"><rect x="1192" y="5" width="114" height="48" rx="16" fill="#d828e8"/><text x="1249" y="29">&lt;a0.2_v&gt;</text></g>
<g id="n-a0_0_q" class="n"><rect x="1331" y="5" width="115" height="48" rx="16" fill="#68ee58"/><text x="1389" y="29">&lt;a0.0_q&gt;</text></g>
<g id="n-a0_0_k" class="n"><rect x="1472" y="5" width="114" height="48" rx="16" fill="#5a0fd6"/><text x="1529" y="29">&lt;a0.0_k&gt;</text></g>
<g id="n-a0_0_v" class="n"><rect x="1610" y="5" width="114" height="48" rx="16" fill="#34221f"/><text x="1667" y="29">&lt;a0.0_v&gt;</text></g>
<g id="n-a0_1_q" class="n"><rect x="1765" y="5" width="115" height="48" rx="16" fill="#c06756"/><text x="1823" y="29">&lt;a0.1_q&gt;</text></g>
<g id="n-a0_1_k" class="n"><rect x="1906" y="5" width="114" height="48" rx="16" fill="#4433dd"/><text x="1963" y="29">&lt;a0.1_k&gt;</text></g>
<g id="n-a0_1_v" class="n"><rect x="2045" y="5" width="114" height="48" rx="16" fill="#3e6630"/><text x="2102" y="29">&lt;a0.1_v&gt;</text></g>
<g id="n-a0_5_q" class="n"><rect x="2304" y="5" width="115" height="48" rx="16" fill="#6dce83"/><text x="2362" y="29">&lt;a0.5_q&gt;</text></g>
<g id="n-a0_5_k" class="n"><rect x="2444" y="5" width="114" height="48" rx="16" fill="#101ea9"/><text x="2501" y="29">&lt;a0.5_k&gt;</text></g>
<g id="n-a0_5_v" class="n"><rect x="2583" y="5" width="114" height="48" rx="16" fill="#b5038f"/><text x="2640" y="29">&lt;a0.5_v&gt;</text></g>
<g id="n-a0_3" class="n"><rect x="16" y="101" width="94" height="48" rx="16" fill="#d4a0a0"/><text x="63" y="125">&lt;a0.3&gt;</text></g>
<g id="n-a0_7" class="n"><rect x="135" y="101" width="94" height="48" rx="16" fill="#8f7f82"/><text x="182" y="125">&lt;a0.7&gt;</text></g>
<g id="n-a0_2" class="n"><rect x="1093" y="101" width="94" height="48" rx="16" fill="#65137e"/><text x="1140" y="125">&lt;a0.2&gt;</text></g>
<g id="n-a0_0" class="n"><rect x="1415" y="101" width="94" height="48" rx="16" fill="#6cf15a"/><text x="1462" y="125">&lt;a0.0&gt;</text></g>
<g id="n-embed" class="n"><rect x="1755" y="101" width="86" height="48" rx="16" fill="#dbd122"/><text x="1798" y="125">embed</text></g>
<g id="n-a0_1" class="n"><rect x="1916" y="101" width="94" height="48" rx="16" fill="#57d9bc"/><text x="1963" y="125">&lt;a0.1&gt;</text></g>
<g id="n-a0_5" class="n"><rect x="2455" y="101" width="94" height="48" rx="16" fill="#2eb994"/><text x="2502" y="125">&lt;a0.5&gt;</text></g>
<g id="n-a1_5_v" class="n"><rect x="66" y="197" width="114" height="48" rx="16" fill="#c0676b"/><text x="123" y="221">&lt;a1.5_v&gt;</text></g>
<g id="n-a1_2_q" class="n"><rect x="256" y="197" width="115" height="48" rx="16" fill="#807a4c"/><text x="314" y="221">&lt;a1.2_q&gt;</text></g>
<g id="n-a1_2_v" class="n"><rect x="846" y="197" width="114" height="48" rx="16" fill="#56cf12"/><text x="903" y="221">&lt;a1.2_v&gt;</text></g>
<g id="n-a1_4_k" class="n"><rect x="1209" y="197" width="114" height="48" rx="16" fill="#1f9a37"/><text x="1266" y="221">&lt;a1.4_k&gt;</text></g>
<g id="n-a1_4_v" class="n"><rect x="1500" y="197" width="114" height="48" rx="16" fill="#d98c50"/><text x="1557" y="221">&lt;a1.4_v&gt;</text></g>
<g id="n-a2_0_q" class="n"><rect x="1740" y="197" width="116" height="48" rx="16" fill="#88f2ea"/><text x="1798" y="221">&lt;a2.0_q&gt;</text></g>
<g id="n-a1_0_v" class="n"><rect x="1982" y="197" width="114" height="48" rx="16" fill="#34a89a"/><text x="2039" y="221">&lt;a1.0_v&gt;</text></g>
<g id="n-a1_0_q" class="n"><rect x="2375" y="197" width="114" height="48" rx="16" fill="#0479ab"/><text x="2432" y="221">&lt;a1.0_q&gt;</text></g>
<g id="n-a1_0_k" class="n"><rect x="2516" y="197" width="114" height="48" rx="16" fill="#5aa60b"/><text x="2573" y="221">&lt;a1.0_k&gt;</text></g>
<g id="n-a3_5_v" class="n"><rect x="261" y="293" width="114" height="48" rx="16" fill="#2b1db1"/><text x="318" y="317">&lt;a3.5_v&gt;</text></g>
<g id="n-a1_5" class="n"><rect x="659" y="293" width="94" height="48" rx="16" fill="#8bbd08"/><text x="706" y="317">&lt;a1.5&gt;</text></g>
<g id="n-a1_2" class="n"><rect x="856" y="293" width="94" height="48" rx="16" fill="#2d52e6"/><text x="903" y="317">&lt;a1.2&gt;</text></g>
<g id="n-a2_3_q" class="n"><rect x="1340" y="293" width="116" height="48" rx="16" fill="#23e33d"/><text x="1398" y="317">&lt;a2.3_q&gt;</text></g>
<g id="n-a1_4" class="n"><rect x="1480" y="293" width="94" height="48" rx="16" fill="#4d1f5f"/><text x="1527" y="317">&lt;a1.4&gt;</text></g>
<g id="n-a1_0" class="n"><rect x="1854" y="293" width="94" height="48" rx="16" fill="#76cf93"/><text x="1901" y="317">&lt;a1.0&gt;</text></g>
<g id="n-a1_7" class="n"><rect x="2024" y="293" width="94" height="48" rx="16" fill="#39a49a"/><text x="2071" y="317">&lt;a1.7&gt;</text></g>
<g id="n-a1_6" class="n"><rect x="2143" y="293" width="94" height="48" rx="16" fill="#23c1e0"/><text x="2190" y="317">&lt;a1.6&gt;</text></g>
<g id="n-a2_2_v" class="n"><rect x="2617" y="293" width="114" height="48" rx="16" fill="#c32fbd"/><text x="2674" y="317">&lt;a2.2_v&gt;</text></g>
<g id="n-a3_5_q" class="n"><rect x="118" y="389" width="115" height="48" rx="16" fill="#ee73d4"/><text x="176" y="413">&lt;a3.5_q&gt;</text></g>
<g id="n-a3_5_k" class="n"><rect x="360" y="389" width="114" height="48" rx="16" fill="#1a1228"/><text x="417" y="413">&lt;a3.5_k&gt;</text></g>
<g id="n-a2_3_v" class="n"><rect x="751" y="389" width="114" height="48" rx="16" fill="#2cc911"/><text x="808" y="413">&lt;a2.3_v&gt;</text></g>
<g id="n-a2_7_v" class="n"><rect x="1245" y="389" width="114" height="48" rx="16" fill="#2ec6c0"/><text x="1302" y="413">&lt;a2.7_v&gt;</text></g>
<g id="n-a2_7_q" class="n"><rect x="1384" y="389" width="116" height="48" rx="16" fill="#ed6fd9"/><text x="1442" y="413">&lt;a2.7_q&gt;</text></g>
<g id="n-a2_5_v" class="n"><rect x="1576" y="389" width="114" height="48" rx="16" fill="#a373b3"/><text x="1633" y="413">&lt;a2.5_v&gt;</text></g>
<g id="n-a2_6_v" class="n"><rect x="1714" y="389" width="114" height="48" rx="16" fill="#e7fb3d"/><text x="1771" y="413">&lt;a2.6_v&gt;</text></g>
<g id="n-a2_1_v" class="n"><rect x="1853" y="389" width="114" height="48" rx="16" fill="#f21bc9"/><text x="1910" y="413">&lt;a2.1_v&gt;</text></g>
<g id="n-a2_0_v" class="n"><rect x="2093" y="389" width="114" height="48" rx="16" fill="#b0dfd6"/><text x="2150" y="413">&lt;a2.0_v&gt;</text></g>
<g id="n-a2_2_k" class="n"><rect x="2283" y="389" width="114" height="48" rx="16" fill="#257320"/><text x="2340" y="413">&lt;a2.2_k&gt;</text></g>
<g id="n-a2_0_k" class="n"><rect x="2471" y="389" width="114" height="48" rx="16" fill="#764b7e"/><text x="2528" y="413">&lt;a2.0_k&gt;</text></g>
<g id="n-a2_2_q" class="n"><rect x="2713" y="389" width="114" height="48" rx="16" fill="#07b35c"/><text x="2770" y="413">&lt;a2.2_q&gt;</text></g>
<g id="n-a3_5" class="n"><rect x="246" y="485" width="94" height="48" rx="16" fill="#e2179e"/><text x="293" y="509">&lt;a3.5&gt;</text></g>
<g id="n-a2_3" class="n"><rect x="1159" y="485" width="94" height="48" rx="16" fill="#bd9ae0"/><text x="1206" y="509">&lt;a2.3&gt;</text></g>
<g id="n-a2_7" class="n"><rect x="1395" y="485" width="94" height="48" rx="16" fill="#b28a07"/><text x="1442" y="509">&lt;a2.7&gt;</text></g>
<g id="n-a2_5" class="n"><rect x="1515" y="485" width="94" height="48" rx="16" fill="#a3e826"/><text x="1562" y="509">&lt;a2.5&gt;</text></g>
<g id="n-a2_6" class="n"><rect x="1634" y="485" width="94" height="48" rx="16" fill="#66887f"/><text x="1681" y="509">&lt;a2.6&gt;</text></g>
<g id="n-a2_1" class="n"><rect x="1752" y="485" width="94" height="48" rx="16" fill="#b1510f"/><text x="1799" y="509">&lt;a2.1&gt;</text></g>
<g id="n-a2_0" class="n"><rect x="1923" y="485" width="94" height="48" rx="16" fill="#b0e854"/><text x="1970" y="509">&lt;a2.0&gt;</text></g>
<g id="n-a2_2" class="n"><rect x="2094" y="485" width="94" height="48" rx="16" fill="#e20d5a"/><text x="2141" y="509">&lt;a2.2&gt;</text></g>
<g id="n-a3_0_v" class="n"><rect x="761" y="581" width="114" height="48" rx="16" fill="#d8ef13"/><text x="818" y="605">&lt;a3.0_v&gt;</text></g>
<g id="n-a3_0_k" class="n"><rect x="1106" y="581" width="114" height="48" rx="16" fill="#8c14dc"/><text x="1163" y="605">&lt;a3.0_k&gt;</text></g>
<g id="n-a3_0_q" class="n"><rect x="1318" y="581" width="116" height="48" rx="16" fill="#9089e3"/><text x="1376" y="605">&lt;a3.0_q&gt;</text></g>
<g id="n-a3_7_q" class="n"><rect x="1483" y="581" width="116" height="48" rx="16" fill="#f7c5f6"/><text x="1541" y="605">&lt;a3.7_q&gt;</text></g>
<g id="n-a3_7_k" class="n"><rect x="1624" y="581" width="114" height="48" rx="16" fill="#a88fe1"/><text x="1681" y="605">&lt;a3.7_k&gt;</text></g>
<g id="n-a3_7_v" class="n"><rect x="1763" y="581" width="114" height="48" rx="16" fill="#e82812"/><text x="1820" y="605">&lt;a3.7_v&gt;</text></g>
<g id="n-a3_6_q" class="n"><rect x="1955" y="581" width="116" height="48" rx="16" fill="#7a2ef5"/><text x="2013" y="605">&lt;a3.6_q&gt;</text></g>
<g id="n-a3_6_k" class="n"><rect x="2169" y="581" width="114" height="48" rx="16" fill="#dd17b9"/><text x="2226" y="605">&lt;a3.6_k&gt;</text></g>
<g id="n-a3_6_v" class="n"><rect x="2566" y="581" width="114" height="48" rx="16" fill="#96a0ca"/><text x="2623" y="605">&lt;a3.6_v&gt;</text></g>
<g id="n-a3_0" class="n"><rect x="1120" y="677" width="94" height="48" rx="16" fill="#4cd4fb"/><text x="1167" y="701">&lt;a3.0&gt;</text></g>
<g id="n-a3_7" class="n"><rect x="1563" y="677" width="94" height="48" rx="16" fill="#b72d2f"/><text x="1610" y="701">&lt;a3.7&gt;</text></g>
<g id="n-a3_6" class="n"><rect x="2094" y="677" width="94" height="48" rx="16" fill="#7276a6"/><text x="2141" y="701">&lt;a3.6&gt;</text></g>
<g id="n-resid_post" class="n"><rect x="1140" y="773" width="148" height="48" rx="16" fill="#22f08c"/><text x="1214" y="797">&lt;resid_post&gt;</text></g>
</svg>
